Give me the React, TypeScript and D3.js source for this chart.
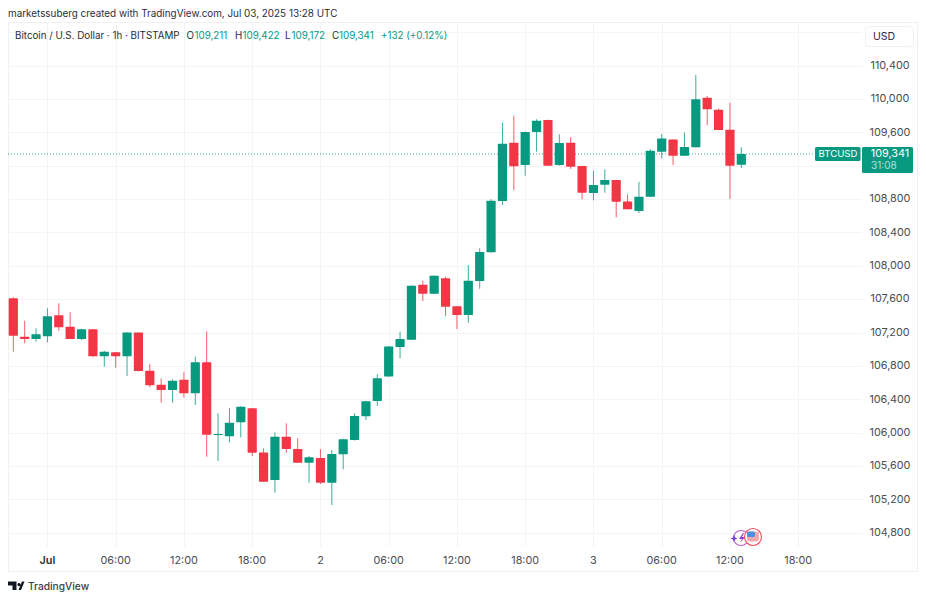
import React, { useEffect, useRef } from 'react';
import * as d3 from 'd3';

// hourly candles
const opens = [107610, 107150, 107122, 107155, 107407, 107270, 107122, 107239, 106915, 106963, 106915, 107199, 106743, 106575, 106511, 106635, 106471, 106843, 105975, 105955, 106124, 106291, 105763, 105432, 105951, 105804, 105640, 105696, 105400, 105740, 105912, 106196, 106380, 106673, 107026, 107114, 107774, 107666, 107850, 107515, 107410, 107818, 108162, 108777, 109476, 109209, 109605, 109749, 109209, 109476, 109197, 108873, 108973, 109029, 108771, 108657, 108828, 109369, 109513, 109321, 109421, 110016, 109872, 109632, 109211];
const highs = [107622, 107342, 107250, 107491, 107551, 107443, 107246, 107243, 106979, 106967, 107201, 107201, 106823, 106651, 106639, 106723, 106910, 107213, 106232, 106295, 106316, 106295, 105811, 106004, 106112, 105932, 105720, 105804, 105792, 105924, 106232, 106383, 106700, 107038, 107210, 107766, 107822, 107887, 107870, 107518, 108007, 108210, 108798, 109716, 109800, 109609, 109757, 109752, 109577, 109541, 109199, 109140, 109157, 109033, 108857, 109008, 109400, 109581, 109515, 109597, 110288, 110036, 109884, 109956, 109422];
const lows = [106970, 107071, 107090, 107083, 107222, 107122, 107110, 106907, 106791, 106779, 106679, 106733, 106543, 106359, 106359, 106419, 106331, 105711, 105660, 105883, 105943, 105719, 105408, 105279, 105759, 105636, 105400, 105384, 105132, 105560, 105906, 106150, 106322, 106670, 106891, 107110, 107577, 107662, 107398, 107242, 107318, 107725, 108158, 108729, 108905, 109080, 109369, 109197, 109200, 109161, 108797, 108785, 108877, 108581, 108675, 108633, 108825, 109289, 109208, 109317, 109418, 109685, 109625, 108801, 109172];
const closes = [107162, 107122, 107179, 107395, 107263, 107122, 107239, 106915, 106970, 106915, 107199, 106739, 106567, 106511, 106623, 106471, 106843, 105975, 105983, 106119, 106311, 105759, 105412, 105951, 105804, 105640, 105704, 105400, 105744, 105920, 106200, 106376, 106652, 107033, 107122, 107762, 107666, 107882, 107510, 107410, 107822, 108166, 108781, 109464, 109193, 109605, 109740, 109200, 109473, 109188, 108877, 108969, 109029, 108769, 108678, 108828, 109380, 109525, 109321, 109425, 109997, 109877, 109628, 109200, 109341];

const priceTicks = [110400, 110000, 109600, 109200, 108800, 108400, 108000, 107600, 107200, 106800, 106400, 106000, 105600, 105200, 104800];
const timeTicks = [3, 9, 15, 21, 27, 33, 39, 45, 51, 57, 63, 69];
const timeLabels = ['Jul', '06:00', '12:00', '18:00', '2', '06:00', '12:00', '18:00', '3', '06:00', '12:00', '18:00'];

const lastPrice = 109341;
const legendParts = [
  { text: 'Bitcoin / U.S. Dollar · 1h · BITSTAMP', dark: true },
  { text: 'O', dark: true },
  { text: '109,211', dark: false },
  { text: 'H', dark: true },
  { text: '109,422', dark: false },
  { text: 'L', dark: true },
  { text: '109,172', dark: false },
  { text: 'C', dark: true },
  { text: '109,341', dark: false },
  { text: '+132 (+0.12%)', dark: false }
];
const legendX = [15, 186.5, 194.5, 235, 242.5, 285, 291.5, 332, 339, 381];

const UP = '#089981';
const DOWN = '#F23645';
const GRID = '#f3f4f6';
const TEXT = '#4a4c53';
const FONT = 'Inter, "Noto Sans", sans-serif';

export default function App(): JSX.Element {
  const svgRef = useRef<SVGSVGElement>(null);

  useEffect(() => {
    const el = svgRef.current;
    if (el == null) {
      return;
    }
    const svg = d3.select(el);
    svg.selectAll('*').remove();
    svg.attr('font-family', FONT);

    const paneLeft = 8;
    const paneRight = 862;
    const paneTop = 22;
    const paneBottom = 547;
    const outerRight = 917;
    const outerBottom = 571;

    const x = d3.scaleLinear().domain([0, 69]).range([13.3, 798.2]);
    const y = d3.scaleLinear().domain([110000, 104800]).range([99, 532.7]);
    const bodyW = 9.2;

    // frame
    svg
      .append('rect')
      .attr('x', paneLeft + 0.5)
      .attr('y', paneTop + 0.5)
      .attr('width', outerRight - paneLeft)
      .attr('height', outerBottom - paneTop)
      .attr('fill', 'none')
      .attr('stroke', '#eff0f2');

    // grid
    svg
      .append('g')
      .selectAll('line')
      .data([110800, ...priceTicks])
      .enter()
      .append('line')
      .attr('x1', paneLeft)
      .attr('x2', paneRight)
      .attr('y1', (d) => Math.round(y(d)) + 0.5)
      .attr('y2', (d) => Math.round(y(d)) + 0.5)
      .attr('stroke', GRID);
    svg
      .append('g')
      .selectAll('line')
      .data(timeTicks)
      .enter()
      .append('line')
      .attr('x1', (d) => Math.round(x(d)) + 0.5)
      .attr('x2', (d) => Math.round(x(d)) + 0.5)
      .attr('y1', paneTop)
      .attr('y2', paneBottom)
      .attr('stroke', GRID);

    // last price line
    svg
      .append('line')
      .attr('x1', paneLeft)
      .attr('x2', 815)
      .attr('y1', y(lastPrice))
      .attr('y2', y(lastPrice))
      .attr('stroke', UP)
      .attr('stroke-opacity', 0.8)
      .attr('stroke-dasharray', '1 2');

    // candles
    const candles = d3.range(opens.length);
    const color = (i: number) => (closes[i] >= opens[i] ? UP : DOWN);
    svg
      .append('g')
      .selectAll('line')
      .data(candles)
      .enter()
      .append('line')
      .attr('x1', (i) => x(i))
      .attr('x2', (i) => x(i))
      .attr('y1', (i) => y(highs[i]))
      .attr('y2', (i) => y(lows[i]))
      .attr('stroke', color)
      .attr('stroke-opacity', 0.8)
      .attr('stroke-width', 1);
    svg
      .append('g')
      .selectAll('rect')
      .data(candles)
      .enter()
      .append('rect')
      .attr('x', (i) => x(i) - bodyW / 2)
      .attr('width', bodyW)
      .attr('y', (i) => y(Math.max(opens[i], closes[i])))
      .attr('height', (i) => Math.max(1, Math.abs(y(opens[i]) - y(closes[i]))))
      .attr('rx', 0.6)
      .attr('fill', color);

    // price axis, the tick behind the last price tag is not shown
    svg
      .append('g')
      .selectAll('text')
      .data(priceTicks.filter((d) => Math.abs(y(d) - y(lastPrice)) > 20))
      .enter()
      .append('text')
      .attr('x', 890)
      .attr('y', (d) => y(d) - 0.5)
      .attr('dy', '0.35em')
      .attr('text-anchor', 'middle')
      .attr('font-size', 10.8)
      .attr('fill', TEXT)
      .text((d) => d3.format(',')(d));

    // time axis
    svg
      .append('g')
      .selectAll('text')
      .data(timeTicks)
      .enter()
      .append('text')
      .attr('x', (d) => x(d))
      .attr('y', 560)
      .attr('dy', '0.35em')
      .attr('text-anchor', 'middle')
      .attr('font-size', 10.8)
      .attr('font-weight', (_, i) => (timeLabels[i] === 'Jul' ? 600 : 400))
      .attr('fill', (_, i) => (timeLabels[i] === 'Jul' ? '#2a2e39' : TEXT))
      .text((_, i) => timeLabels[i]);

    // header
    svg
      .append('text')
      .attr('x', 8)
      .attr('y', 17)
      .attr('font-size', 9.9)
      .attr('fill', '#2a2e39')
      .text('marketssuberg created with TradingView.com, Jul 03, 2025 13:28 UTC');

    svg
      .append('g')
      .selectAll('text')
      .data(legendParts)
      .enter()
      .append('text')
      .attr('x', (_, i) => legendX[i])
      .attr('y', 39)
      .attr('font-size', 9.8)
      .attr('fill', (d) => (d.dark ? '#2a2e39' : UP))
      .text((d) => d.text);

    // USD button
    svg
      .append('rect')
      .attr('x', 865.5)
      .attr('y', 26.5)
      .attr('width', 48)
      .attr('height', 20)
      .attr('rx', 3)
      .attr('fill', '#fff')
      .attr('stroke', '#f0f1f3');
    svg
      .append('text')
      .attr('x', 873)
      .attr('y', 40)
      .attr('font-size', 10.5)
      .attr('fill', '#2a2e39')
      .text('USD');

    // last price tags
    const tagY = y(lastPrice) - 7;
    svg
      .append('rect')
      .attr('x', 815)
      .attr('y', tagY)
      .attr('width', 45.5)
      .attr('height', 14)
      .attr('rx', 1.5)
      .attr('fill', UP);
    svg
      .append('text')
      .attr('x', 838)
      .attr('y', tagY + 7)
      .attr('dy', '0.35em')
      .attr('text-anchor', 'middle')
      .attr('font-size', 9.6)
      .attr('fill', '#fff')
      .text('BTCUSD');
    svg
      .append('rect')
      .attr('x', 862)
      .attr('y', tagY)
      .attr('width', 51)
      .attr('height', 26)
      .attr('rx', 1.5)
      .attr('fill', UP);
    svg
      .append('text')
      .attr('x', 890)
      .attr('y', tagY + 6.5)
      .attr('dy', '0.35em')
      .attr('text-anchor', 'middle')
      .attr('font-size', 10.8)
      .attr('fill', '#fff')
      .text(d3.format(',')(lastPrice));
    svg
      .append('text')
      .attr('x', 871)
      .attr('y', tagY + 18.5)
      .attr('dy', '0.35em')
      .attr('font-size', 10)
      .attr('fill', '#b5e0d8')
      .text('31:08');

    // event icons
    const icons = svg.append('g');
    icons
      .append('circle')
      .attr('cx', 741)
      .attr('cy', 538)
      .attr('r', 7.5)
      .attr('fill', '#fff')
      .attr('stroke', '#b85fd6')
      .attr('stroke-width', 1.2);
    icons
      .append('path')
      .attr('d', 'M743 533l-4 6h3l-2 4 5-6h-3l2-4z')
      .attr('fill', '#8a3fd1');
    icons
      .append('path')
      .attr('d', 'M733 537.5l1 -2.5 1 2.5 2.5 1-2.5 1-1 2.5-1-2.5-2.5-1z')
      .attr('fill', '#6d3fe0');
    icons
      .append('circle')
      .attr('cx', 753)
      .attr('cy', 537)
      .attr('r', 8.5)
      .attr('fill', '#fff')
      .attr('stroke', '#f0505e')
      .attr('stroke-width', 1.2);
    icons
      .append('rect')
      .attr('x', 747)
      .attr('y', 531.5)
      .attr('width', 12)
      .attr('height', 10)
      .attr('rx', 3)
      .attr('fill', '#f7a8ae');
    icons
      .append('rect')
      .attr('x', 747)
      .attr('y', 531.5)
      .attr('width', 8)
      .attr('height', 5.5)
      .attr('rx', 1.5)
      .attr('fill', '#4c8fe0');

    // TradingView logo
    svg
      .append('path')
      .attr('d', 'M8 581.5h8.5v8.5h-4v-4.5h-4.5zM19 583a1.6 1.6 0 1 0 0.01 0zM18.5 590l3.5-8.5h2.5l-3.5 8.5z')
      .attr('fill', '#131722');
    svg
      .append('text')
      .attr('x', 28)
      .attr('y', 590)
      .attr('font-size', 10.2)
      .attr('font-weight', 500)
      .attr('fill', '#3a3e49')
      .text('TradingView');
  }, []);

  return (
    <svg
      ref={svgRef}
      width={926}
      height={600}
      style={{ position: 'absolute', left: 0, top: 0, background: '#fff', display: 'block' }}
    />
  );
}
